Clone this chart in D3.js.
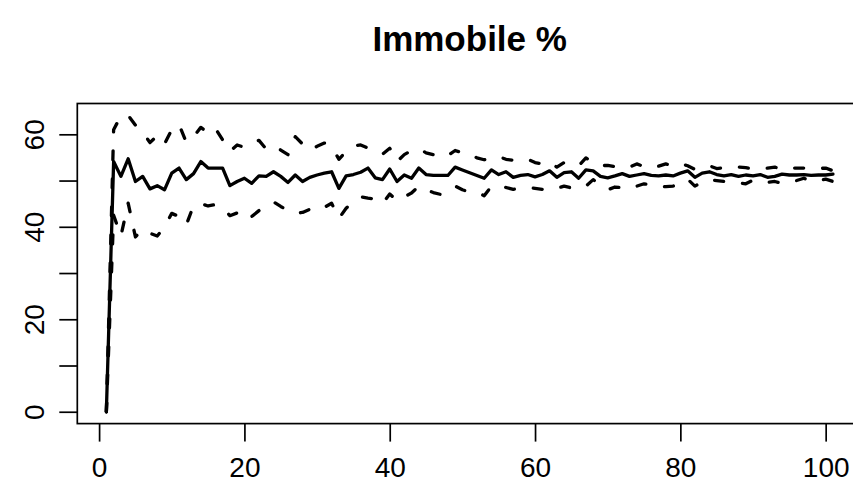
<!DOCTYPE html>
<html>
<head>
<meta charset="utf-8">
<script src="https://cdn.jsdelivr.net/npm/d3@7"></script>
<style>
  body { margin: 0; background: #fff; }
  svg { display: block; font-family: "Liberation Sans", Arial, Helvetica, sans-serif; }
</style>
</head>
<body>
<svg id="chart" width="853" height="490"></svg>
<script>
// running mean and its upper / lower band, x = 1..101
const meanVals = [
  0, 54.1, 50.9, 54.7, 49.8, 50.9, 48.2, 48.9, 48.0, 51.6,
  52.7, 50.2, 51.5, 54.1, 52.7, 52.7, 52.7, 48.9, 49.8, 50.5,
  49.4, 51.0, 50.9, 51.9, 50.9, 49.6, 51.2, 49.8, 50.7, 51.2,
  51.6, 51.9, 48.3, 51.0, 51.3, 51.8, 52.7, 50.6, 50.2, 52.5,
  49.8, 51.2, 50.5, 52.7, 51.3, 51.1, 51.1, 51.1, 52.9, 52.3,
  51.7, 51.1, 50.5, 52.3, 51.3, 51.9, 50.7, 51.1, 51.3, 50.8,
  51.3, 52.1, 50.7, 51.7, 51.9, 50.5, 52.3, 52.1, 50.9, 50.6,
  51.0, 51.5, 50.9, 51.2, 51.5, 51.1, 51.0, 51.2, 51.0, 51.6,
  52.1, 50.7, 51.6, 51.9, 51.3, 51.0, 51.3, 50.9, 51.2, 51.0,
  51.3, 50.7, 50.9, 51.4, 51.2, 51.2, 51.3, 51.1, 51.2, 51.2,
  51.4
];
const upperVals = [
  0, 61.0, 64.0, 64.1, 62.0, 60.5, 58.2, 59.7, 57.9, 61.0,
  62.1, 58.3, 59.5, 61.5, 60.3, 61.3, 58.8, 56.3, 57.7, 57.2,
  58.1, 58.7, 56.8, 57.5, 56.6, 55.6, 59.5, 57.9, 56.5, 57.4,
  58.1, 57.5, 54.6, 56.3, 57.5, 57.7, 57.0, 56.5, 55.7, 57.0,
  54.1, 55.6, 56.5, 56.9, 56.0, 55.6, 55.0, 55.4, 56.5, 56.0,
  55.9, 54.9, 54.5, 54.8, 55.2, 54.6, 54.4, 54.5, 54.6, 53.9,
  53.6, 54.1, 52.9, 53.9, 53.6, 53.2, 54.9, 53.8, 53.2, 53.3,
  53.0, 52.8, 52.9, 53.6, 53.0, 52.7, 53.1, 53.6, 53.2, 53.7,
  53.2, 52.4, 52.9, 53.2, 52.6, 52.8, 52.7, 52.9, 52.8, 52.5,
  52.6, 52.7, 52.9, 52.4, 52.7, 52.7, 52.7, 52.5, 52.6, 52.7,
  52.1
];
const lowerVals = [
  0, 42.5, 38.0, 45.1, 37.8, 39.5, 38.6, 38.0, 40.0, 42.9,
  42.2, 40.4, 44.6, 45.0, 44.5, 44.8, 44.2, 42.4, 43.0, 43.7,
  42.2, 43.5, 44.6, 45.4, 44.4, 43.5, 42.9, 43.1, 43.8, 44.6,
  44.2, 45.1, 41.8, 44.0, 45.5, 46.5, 46.2, 46.0, 45.0, 47.1,
  45.6, 46.5, 47.3, 48.8, 48.0, 47.4, 47.0, 47.8, 48.8, 48.0,
  47.5, 47.5, 46.7, 48.8, 48.6, 48.5, 48.1, 48.3, 48.5, 48.3,
  48.1, 48.0, 48.3, 48.8, 48.4, 48.3, 48.8, 50.2, 49.0, 48.0,
  48.6, 48.5, 48.2, 48.8, 49.3, 49.0, 48.6, 48.7, 48.8, 49.6,
  50.3, 48.8, 49.6, 50.2, 50.0, 49.8, 49.8, 49.5, 49.3, 50.1,
  50.0, 49.6, 49.8, 49.4, 49.9, 50.0, 50.5, 49.8, 50.0, 50.3,
  49.8
];
const xTicks = [0, 20, 40, 60, 80, 100];
const yTicks = [0, 10, 20, 30, 40, 50, 60];
const yLabelled = [0, 20, 40, 60];
const title = "Immobile %";

const svg = d3.select("#chart");
const width = 853, height = 490;
const plot = {left: 77.3, right: 862, top: 103.5, bottom: 423.6};

const xs = meanVals.map((d, i) => i + 1);
// R style: data range expanded by 4% on each side
const xExt = d3.extent(xs);
const xPad = (xExt[1] - xExt[0]) * 0.04;
const yExt = d3.extent(meanVals.concat(upperVals, lowerVals));
const yPad = (yExt[1] - yExt[0]) * 0.04;

const x = d3.scaleLinear()
    .domain([xExt[0] - xPad, xExt[1] + xPad])
    .range([plot.left, plot.right]);
const y = d3.scaleLinear()
    .domain([yExt[0] - yPad, yExt[1] + yPad])
    .range([plot.bottom, plot.top]);

svg.append("rect").attr("width", width).attr("height", height).attr("fill", "#fff");

// x axis
const xAxis = svg.append("g")
    .attr("transform", "translate(0," + plot.bottom + ")")
    .call(d3.axisBottom(x).tickValues(xTicks).tickSize(18).tickPadding(16));
xAxis.select(".domain").remove();
xAxis.selectAll("line").attr("stroke", "#000").attr("stroke-width", 1.7);
xAxis.selectAll("text").attr("font-size", 28).attr("fill", "#000")
    .attr("font-family", "Liberation Sans, Arial, sans-serif");

// y axis, labels turned like in base R
const yAxis = svg.append("g")
    .attr("transform", "translate(" + plot.left + ",0)")
    .call(d3.axisLeft(y).tickValues(yTicks).tickSize(18)
        .tickFormat(d => yLabelled.includes(d) ? d : ""));
yAxis.select(".domain").remove();
yAxis.selectAll("line").attr("stroke", "#000").attr("stroke-width", 1.7);
yAxis.selectAll("text")
    .attr("font-size", 28).attr("fill", "#000")
    .attr("font-family", "Liberation Sans, Arial, sans-serif")
    .attr("x", null).attr("dy", null)
    .attr("text-anchor", "middle")
    .attr("transform", "translate(-33,0) rotate(-90)");

// box
svg.append("rect")
    .attr("x", plot.left).attr("y", plot.top)
    .attr("width", plot.right - plot.left).attr("height", plot.bottom - plot.top)
    .attr("fill", "none").attr("stroke", "#000").attr("stroke-width", 1.7);

const line = d3.line()
    .x((d, i) => x(xs[i]))
    .y(d => y(d));

const series = [
    {vals: upperVals, dash: "9,19"},
    {vals: lowerVals, dash: "9,19"},
    {vals: meanVals, dash: null}
];

svg.selectAll(".series")
    .data(series)
    .enter().append("path")
    .attr("class", "series")
    .attr("d", d => line(d.vals))
    .attr("fill", "none")
    .attr("stroke", "#000")
    .attr("stroke-width", 3.3)
    .attr("stroke-linecap", "round")
    .attr("stroke-linejoin", "round")
    .attr("stroke-dasharray", d => d.dash);

// title
svg.append("text")
    .attr("x", (plot.left + plot.right) / 2)
    .attr("y", 51)
    .attr("text-anchor", "middle")
    .attr("font-size", 35)
    .attr("font-weight", "bold")
    .attr("fill", "#000")
    .text(title);
</script>
</body>
</html>
